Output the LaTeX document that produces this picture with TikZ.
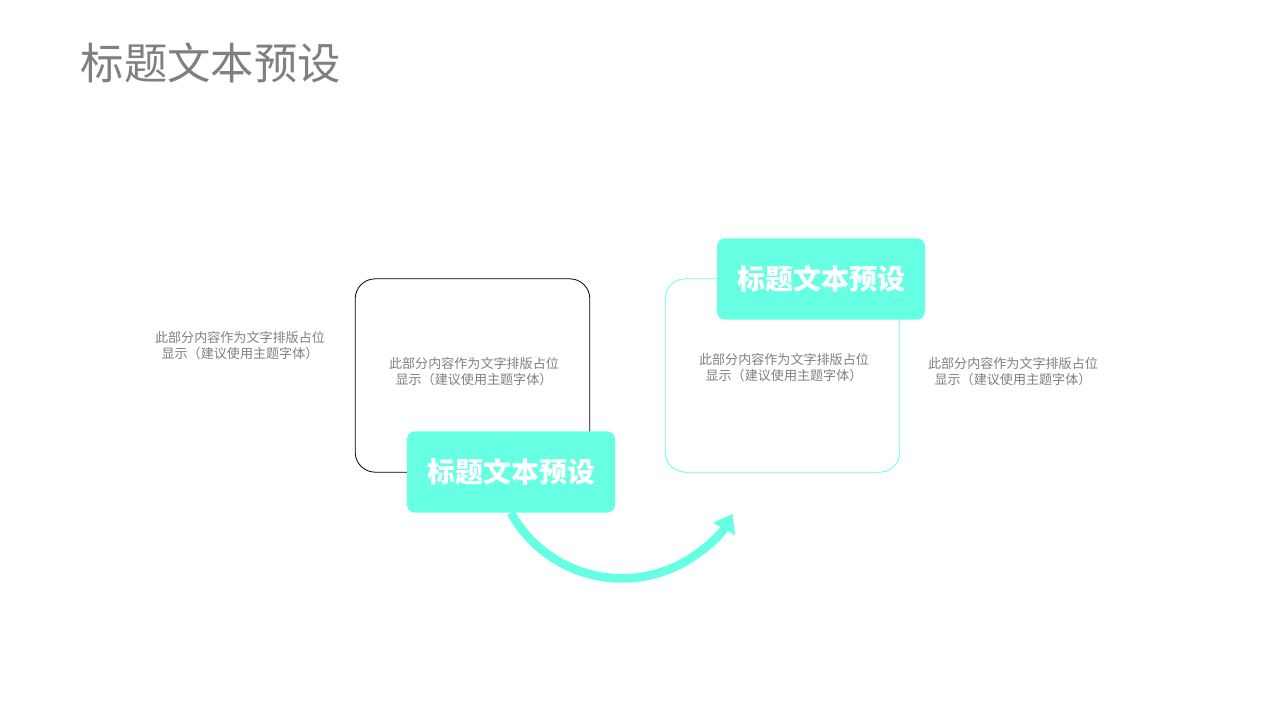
\documentclass[tikz,border=0pt]{standalone}
\usepackage{fontspec}
\setmainfont{Noto Sans CJK SC}
\usepackage{tikz}
\usetikzlibrary{arrows.meta}
\definecolor{teal1}{HTML}{66FFE3}
\definecolor{txtgray}{HTML}{7F7F7F}
\tikzset{
    normal/.style={draw, line width=0.6pt},
    frame/.style={style=normal, rounded corners=15pt, minimum width=176pt, minimum height=145pt},
    lbl/.style={fill=teal1, rounded corners=6pt, minimum width=156pt, minimum height=61pt, text=white, font=\fontsize{21pt}{24pt}\selectfont\bfseries},
    desc/.style={text=txtgray, align=center, font=\fontsize{9.8pt}{12pt}\selectfont},
    flow/.style={draw=teal1, line width=6.5pt, -{Triangle[length=13pt, width=18pt]}}
}
\tikzstyle{heading}=[text=txtgray, anchor=west, font=\fontsize{32.5pt}{36pt}\selectfont]

\begin{document}
\begin{tikzpicture}[x=0.75pt, y=-0.75pt]
          \useasboundingbox (0, 0) rectangle (1280, 720);
          \node[heading] (title) at (76, 63) {标题文本预设};

          \node[frame, draw=black] (box1) at (472.5, 375.5) {};
          \node[frame, draw=teal1] (box2) at (782.5, 375.5) {};
          \node[lbl] (lbl1) at (511, 472) {标题文本预设};
          \node[lbl] (lbl2) at (821, 279) {标题文本预设};

          \node[desc] (txt1) at (240, 346) {此部分内容作为文字排版占位\\显示（建议使用主题字体）};
          \node[desc] (txt2) at (474, 372) {此部分内容作为文字排版占位\\显示（建议使用主题字体）};
          \node[desc] (txt3) at (784, 368) {此部分内容作为文字排版占位\\显示（建议使用主题字体）};
          \node[desc] (txt4) at (1013, 372) {此部分内容作为文字排版占位\\显示（建议使用主题字体）};

          \draw[flow] (lbl1.south) arc[start angle=151, end angle=29.5, radius=127];
        \end{tikzpicture}
\end{document}
